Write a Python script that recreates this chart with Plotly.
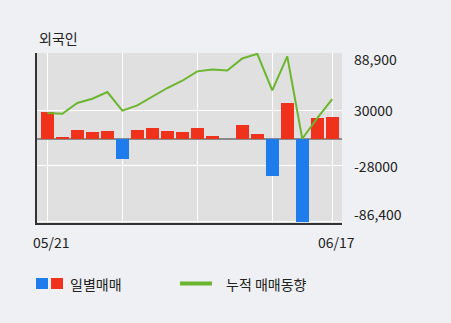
import plotly.graph_objects as go

dates = ["05/21", "05/22", "05/25", "05/26", "05/27", "05/28", "05/29", "06/01", "06/02", "06/03",
         "06/04", "06/05", "06/08", "06/09", "06/10", "06/11", "06/12", "06/15", "06/16", "06/17"]
daily = [27700, 1200, 9600, 6800, 7800, -20700, 8900, 11000, 7800, 6800,
         11000, 2600, 0, 14100, 4700, -39200, 37100, -86400, 21400, 22500]
cumulative = [27000, 26300, 37500, 42000, 49000, 29500, 35000, 44400, 53200, 60800,
              70600, 72600, 71600, 84100, 88900, 50700, 86200, 200, 21800, 41700]
y_ticks = [88900, 30000, -28000, -86400]
y_tick_text = ["88,900", "30000", "-28000", "-86,400"]
x_tick_idx = [0, 5, 10, 15, 19]
x_tick_text = ["05/21", "", "", "", "06/17"]

RED = "#f0321c"
BLUE = "#1f7ced"
GREEN = "#6cb52e"
FONT = "Noto Sans CJK KR"

bar_colors = [RED if v >= 0 else BLUE for v in daily]

fig = go.Figure()
fig.add_trace(go.Bar(x=dates, y=daily, marker=dict(color=bar_colors, line=dict(width=0)),
                     width=0.85, showlegend=False))
fig.add_trace(go.Scatter(x=dates, y=cumulative, mode="lines",
                         line=dict(color=GREEN, width=2), showlegend=False))

L, R, T, B = 37, 109, 53, 100
W, H = 451, 323
pw = W - L - R
ph = H - T - B

fig.update_layout(
    width=W, height=H,
    margin=dict(l=L, r=R, t=T, b=B, pad=0),
    paper_bgcolor="#eef0f3",
    plot_bgcolor="#e0e0e0",
    font=dict(family=FONT, size=14, color="#222222"),
    bargap=0,
)
fig.update_xaxes(
    type="category",
    range=[-0.69, 19.65],
    tickvals=[dates[i] for i in x_tick_idx],
    ticktext=x_tick_text,
    showgrid=True, gridcolor="#ffffff", gridwidth=1,
    showline=True, linecolor="#333333", linewidth=2,
    ticks="", tickfont=dict(size=14, color="#222222", family=FONT),
    ticklabelshift=4, ticklabelstandoff=6,
)
fig.update_yaxes(
    range=[-87900, 89800],
    tickvals=y_ticks,
    showticklabels=False,
    showgrid=True, gridcolor="#ffffff", gridwidth=1,
    zeroline=True, zerolinecolor="#8a8a8a", zerolinewidth=2,
    showline=True, linecolor="#333333", linewidth=2,
    ticks="",
)

shifts = [-5, 0, 0, 8]
for v, t, s in zip(y_ticks, y_tick_text, shifts):
    fig.add_annotation(x=1 + 10 / pw, xref="paper", y=v, yref="y", text=t,
                       showarrow=False, xanchor="left", yanchor="middle", yshift=s,
                       font=dict(size=14, color="#222222", family=FONT))

# title
fig.add_annotation(x=0, xref="paper", y=(H - B - 37.5) / ph, yref="paper", text="외국인",
                   showarrow=False, xanchor="left", yanchor="middle", xshift=0,
                   font=dict(size=14, color="#222222", family=FONT))

def px_x(p):
    return (p - L) / pw

def px_y(p):
    return (H - B - p) / ph

# legend
fig.add_shape(type="rect", xref="paper", yref="paper", x0=px_x(36), x1=px_x(48), y0=px_y(289), y1=px_y(278),
              fillcolor=BLUE, line=dict(width=0))
fig.add_shape(type="rect", xref="paper", yref="paper", x0=px_x(51), x1=px_x(63), y0=px_y(289), y1=px_y(278),
              fillcolor=RED, line=dict(width=0))
fig.add_annotation(x=px_x(68), xref="paper", y=px_y(283.5), yref="paper", text="일별매매",
                   showarrow=False, xanchor="left", yanchor="middle",
                   font=dict(size=14, color="#222222", family=FONT))
fig.add_shape(type="line", xref="paper", yref="paper", x0=px_x(180), x1=px_x(212), y0=px_y(283.5), y1=px_y(283.5),
              line=dict(color=GREEN, width=4))
fig.add_annotation(x=px_x(224), xref="paper", y=px_y(283.5), yref="paper", text="누적 매매동향",
                   showarrow=False, xanchor="left", yanchor="middle",
                   font=dict(size=14, color="#222222", family=FONT))

fig.write_html("out.html")
